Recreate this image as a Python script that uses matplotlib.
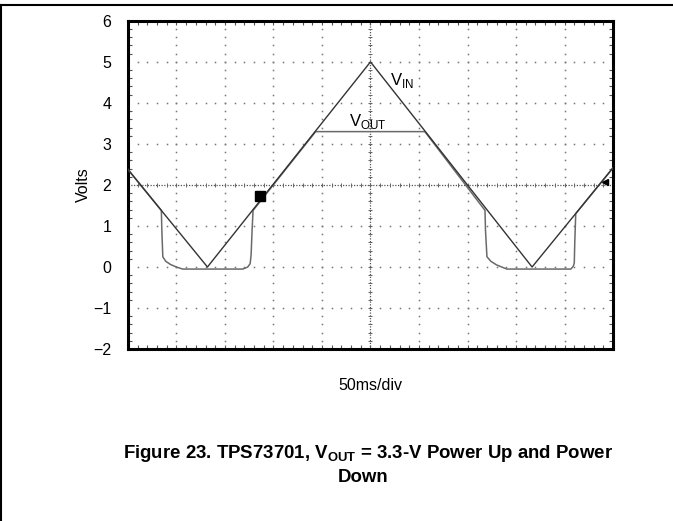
import matplotlib
matplotlib.use("Agg")
import matplotlib.pyplot as plt
import numpy as np
from matplotlib.lines import Line2D

plt.rcParams["font.family"] = ["Liberation Sans", "DejaVu Sans"]
plt.rcParams["mathtext.fontset"] = "custom"
plt.rcParams["mathtext.rm"] = "Liberation Sans"
plt.rcParams["mathtext.bf"] = "Liberation Sans:bold"

# time in scope divisions (50 ms/div), voltage in volts
vin_t = [0.0, 1.64, 5.0, 8.33, 10.0]
vin_v = [2.38, 0.0, 5.0, 0.0, 2.42]

vout_t = [0.0, 0.69, 0.70, 0.72, 0.78, 0.88, 1.0, 1.13, 2.37, 2.47, 2.52, 2.54,
          2.56, 2.58, 3.87, 6.12, 7.36, 7.37, 7.40, 7.48, 7.60, 7.81, 9.13,
          9.18, 9.20, 9.21, 9.23, 10.0]
vout_v = [2.38, 1.38, 0.9, 0.25, 0.14, 0.06, 0.0, -0.05, -0.05, 0.0, 0.08,
          0.3, 0.9, 1.38, 3.3, 3.3, 1.38, 0.9, 0.25, 0.14, 0.05, -0.05, -0.05,
          0.02, 0.1, 0.6, 1.3, 2.42]

trig_t, trig_v = [2.73], [1.73]
level_t, level_v = [9.84], [2.07]

y_ticks = [-2, -1, 0, 1, 2, 3, 4, 5, 6]
y_labels = ["\u22122", "\u22121", "0", "1", "2", "3", "4", "5", "6"]

fig = plt.figure(figsize=(6.73, 5.21), dpi=100)
ax = fig.add_axes([0.190, 0.330, 0.721, 0.630])
ax.set_xlim(0, 10)
ax.set_ylim(-2, 6)

# scope graticule: dotted lines
gx = np.arange(0, 10.001, 0.2)
gy = np.arange(-2, 6.001, 0.2)
for yv in [-1, 0, 1, 3, 4, 5]:
    ax.plot(gx, np.full_like(gx, yv), ls="none", marker="s", ms=1.1,
            mew=0, color="#777777", zorder=1)
for xv in [1, 2, 3, 4, 6, 7, 8, 9]:
    ax.plot(np.full_like(gy, xv), gy, ls="none", marker="s", ms=1.1,
            mew=0, color="#777777", zorder=1)

# centre lines with small ticks
ax.axhline(2, color="#555555", lw=0.9, ls=(0, (1, 1.2)), zorder=1)
ax.axvline(5, color="#555555", lw=0.9, ls=(0, (1, 1.2)), zorder=1)
ax.plot(gx, np.full_like(gx, 2), ls="none", marker="|", ms=3, mew=0.7,
        color="#666666", zorder=1)
ax.plot(np.full_like(gy, 5), gy, ls="none", marker="_", ms=3, mew=0.7,
        color="#666666", zorder=1)

ax.plot(vout_t, vout_v, color="#6a6a6a", lw=1.1, zorder=3)
ax.plot(vin_t, vin_v, color="#333333", lw=1.0, zorder=4)

ax.plot(trig_t, trig_v, ls="none", marker="s", ms=6.5, color="black", zorder=5)
ax.plot(level_t, level_v, ls="none", marker="<", ms=5, color="black", zorder=5)

ax.text(5.4, 4.55, r"V$_{\rm IN}$", fontsize=12, ha="left", va="center")
ax.text(4.95, 3.55, r"V$_{\rm OUT}$", fontsize=12, ha="center", va="center")

ax.set_yticks(y_ticks)
ax.set_yticklabels(y_labels, fontsize=11.5)
ax.set_xticks([])
ax.tick_params(axis="y", length=0, pad=12)
ax.set_xticks(gx, minor=True)
ax.set_yticks(gy, minor=True)
ax.tick_params(which="minor", direction="in", length=3, width=0.8,
               top=True, right=True, color="#555555")
for s in ax.spines.values():
    s.set_linewidth(2.2)

ax.set_ylabel("Volts", fontsize=11.5)
ax.yaxis.set_label_coords(-0.076, 0.5)
ax.set_xlabel("50ms/div", fontsize=11.5)
ax.xaxis.set_label_coords(0.5, -0.088)

fig.text(0.547, 1 - 453 / 521,
         r"Figure 23. TPS73701, V$_{\mathbf{OUT}}$ = 3.3-V Power Up and Power",
         fontsize=13.4, fontweight="bold", ha="center", va="center")
fig.text(0.539, 1 - 477 / 521, "Down", fontsize=13.4, fontweight="bold",
         ha="center", va="center")

# page frame lines
fig.add_artist(Line2D([0, 1], [1 - 5 / 521, 1 - 5 / 521], color="black",
                      lw=1.5, transform=fig.transFigure))
fig.add_artist(Line2D([0.002, 0.002], [0, 1 - 5 / 521], color="black",
                      lw=1.5, transform=fig.transFigure))

fig.savefig("out.png", dpi=100)
